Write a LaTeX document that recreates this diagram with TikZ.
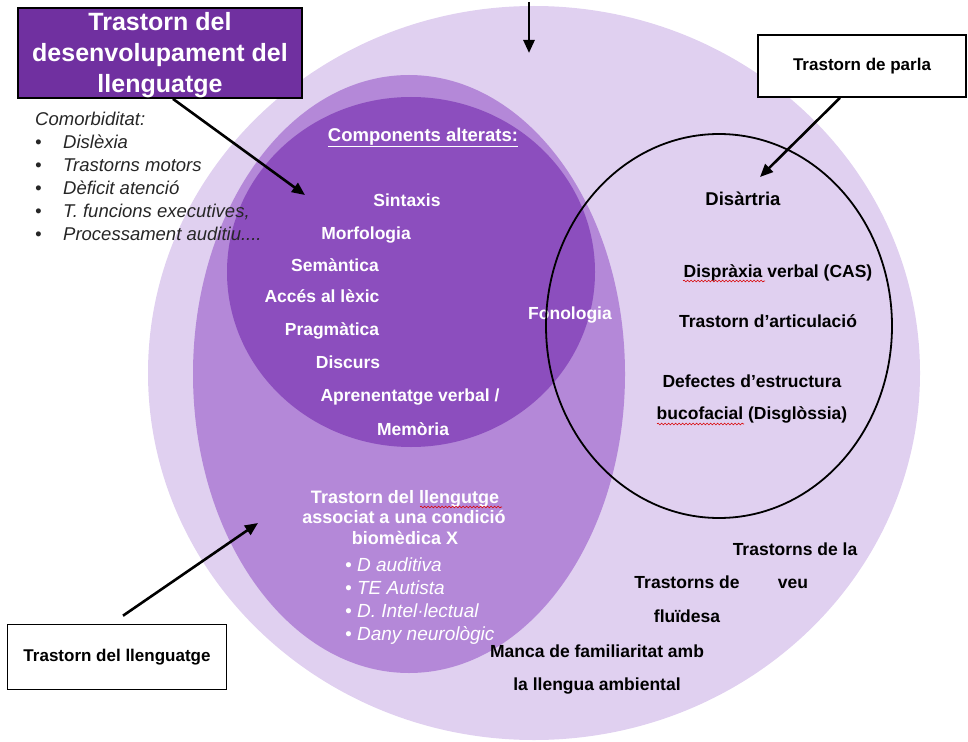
\documentclass[tikz,border=0pt]{standalone}
\usepackage{fontspec}
\setmainfont{Liberation Sans}
\usetikzlibrary{positioning,arrows.meta,decorations.pathmorphing}
\definecolor{HaloLilac}{RGB}{224,208,240}
\definecolor{MidLilac}{RGB}{180,136,216}
\definecolor{DeepLilac}{RGB}{140,78,190}
\definecolor{TitlePurple}{RGB}{112,48,160}
\definecolor{InkGrey}{RGB}{38,38,38}
\tikzset{
  pointer/.style={-{Triangle[length=13pt,width=11pt]},line width=2.6pt,draw=black},
  labelbox/.style={draw=black,line width=1.6pt,fill=white,align=center,
    font=\fontsize{17}{20}\selectfont\bfseries},
  titlebox/.style={draw=black,line width=1.8pt,fill=TitlePurple,text=white,align=center,
    inner ysep=0pt,font=\fontsize{25}{31}\selectfont\bfseries},
  whitelbl/.style={anchor=base,inner sep=0pt,text=white,font=\fontsize{17.5}{20}\selectfont\bfseries},
  blacklbl/.style={anchor=base,inner sep=0pt,text=black,font=\fontsize{17.5}{20}\selectfont\bfseries},
  bulletlbl/.style={anchor=base west,inner sep=0pt,text=white,font=\fontsize{19}{23}\selectfont\itshape},
  listlbl/.style={anchor=base west,inner sep=0pt,text=InkGrey,font=\fontsize{18.5}{23}\selectfont\itshape},
  squiggle/.style={draw=red!85!black,line width=0.6pt,decorate,
    decoration={snake,amplitude=0.9pt,segment length=3.5pt}}
}

\begin{document}
\begin{tikzpicture}[x=1pt,y=-1pt]
  \useasboundingbox (0,0) rectangle (968,741);
  % nested areas
  \fill[HaloLilac] (534,373) ellipse [x radius=386pt,y radius=367pt];
  \fill[MidLilac] (409,374) ellipse [x radius=216pt,y radius=299pt];
  \fill[DeepLilac] (411,272) ellipse [x radius=184pt,y radius=175pt];

  % components
  \node[whitelbl,font=\fontsize{18.5}{20}\selectfont\bfseries] (comphead) at (423,141) {\underline{Components alterats:}};
  \node[whitelbl] (sintaxis) at (407,206) {Sintaxis};
  \node[whitelbl] (morfo) at (366,239) {Morfologia};
  \node[whitelbl] (semant) at (335,271) {Semàntica};
  \node[whitelbl] (lexic) at (322,302) {Accés al lèxic};
  \node[whitelbl] (pragm) at (332,335) {Pragmàtica};
  \node[whitelbl] (discurs) at (348,368) {Discurs};
  \node[whitelbl] (aprenent) at (410,401) {Aprenentatge verbal /};
  \node[whitelbl] (memoria) at (413,435) {Memòria};
  \node[whitelbl] (fonol) at (570,319) {Fonologia};

  % biomedical condition
  \node[whitelbl,font=\fontsize{18}{20}\selectfont\bfseries] (biomed1) at (405,503) {Trastorn del llengutge};
  \node[whitelbl,font=\fontsize{18}{20}\selectfont\bfseries] (biomed2) at (404,523) {associat a una condició};
  \node[whitelbl,font=\fontsize{18}{20}\selectfont\bfseries] (biomed3) at (405,544) {biomèdica X};
  \node[bulletlbl] (cond1) at (345,571) {• D auditiva};
  \node[bulletlbl] (cond2) at (345,594) {• TE Autista};
  \node[bulletlbl] (cond3) at (345,617) {• D. Intel·lectual};
  \node[bulletlbl] (cond4) at (345,640) {• Dany neurològic};

  % speech disorders
  \node[blacklbl,font=\fontsize{18.5}{20}\selectfont\bfseries] (disartria) at (743,205) {Disàrtria};
  \node[blacklbl] (dispraxia) at (778,277) {Dispràxia verbal (CAS)};
  \node[blacklbl] (articul) at (768,327) {Trastorn d’articulació};
  \node[blacklbl] (defect1) at (752,387) {Defectes d’estructura};
  \node[blacklbl] (defect2) at (752,419) {bucofacial (Disglòssia)};
  \draw[squiggle] (683,281) -- (765,281);
  \draw[squiggle] (657,424) -- (744,424);
  \draw[squiggle] (420,507) -- (502,507);

  % outer ring
  \node[blacklbl] (veu1) at (795,555) {Trastorns de la};
  \node[blacklbl] (veu2) at (793,588) {veu};
  \node[blacklbl] (fluid1) at (687,588) {Trastorns de};
  \node[blacklbl] (fluid2) at (687,622) {fluïdesa};
  \node[blacklbl] (manca1) at (597,657) {Manca de familiaritat amb};
  \node[blacklbl] (manca2) at (597,690) {la llengua ambiental};

  % speech circle
  \draw[line width=1.8pt] (719,326) ellipse [x radius=173pt,y radius=192pt];

  % comorbidity
  \node[listlbl] (comorb) at (35,125) {Comorbiditat:};
  \node[listlbl] (com1) at (35,148) {\makebox[28pt][l]{•}Dislèxia};
  \node[listlbl] (com2) at (35,171) {\makebox[28pt][l]{•}Trastorns motors};
  \node[listlbl] (com3) at (35,194) {\makebox[28pt][l]{•}Dèficit atenció};
  \node[listlbl] (com4) at (35,217) {\makebox[28pt][l]{•}T. funcions executives,};
  \node[listlbl] (com5) at (35,240) {\makebox[28pt][l]{•}Processament auditiu....};

  % boxes
  \node[titlebox,minimum width=284pt,minimum height=90pt] (devbox) at (160,53)
    {\rule{0pt}{22pt}Trastorn del\\desenvolupament del\\llenguatge};
  \node[labelbox,minimum width=208pt,minimum height=62pt] (speechbox) at (862,66) {Trastorn de parla};
  \node[labelbox,minimum width=219pt,minimum height=65pt] (langbox) at (117,657) {Trastorn del llenguatge};

  % pointers
  \coordinate (toptail) at (529,2);
  \coordinate (toptip) at (529,53);
  \coordinate (devtip) at (305,195);
  \coordinate (speechtip) at (760,177);
  \coordinate (langtip) at (258,523);
  \draw[pointer] (toptail) -- (toptip);
  \draw[pointer] ([xshift=13pt]devbox.south) -- (devtip);
  \draw[pointer] ([xshift=-22pt]speechbox.south) -- (speechtip);
  \draw[pointer] ([xshift=6pt,yshift=8pt]langbox.north) -- (langtip);
\end{tikzpicture}
\end{document}
